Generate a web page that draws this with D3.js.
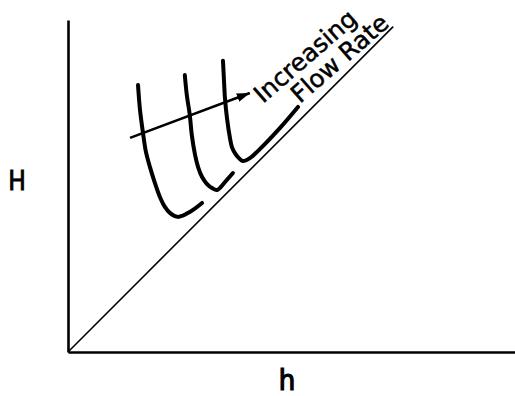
<!DOCTYPE html>
<html>
<head>
<meta charset="utf-8">
<script src="https://cdn.jsdelivr.net/npm/d3@7"></script>
<style>
  html, body { margin: 0; padding: 0; background: #fff; }
  svg { display: block; }
</style>
</head>
<body>
<svg id="chart" width="515" height="396"></svg>
<script>
// Axis extents (arbitrary units, equal scaling on both axes)
const hDomain = [0, 13.5];
const HDomain = [0, 10];

// Reference line H = h
const diagonal = [[0, 0], [9.8, 9.8]];

// Head curves, one per flow rate (low -> high)
const curveLow = [
  [2.11, 8.04], [2.17, 7.29], [2.26, 6.60], [2.35, 6.02], [2.47, 5.57],
  [2.62, 5.09], [2.77, 4.67], [2.92, 4.37], [3.07, 4.19], [3.31, 4.07],
  [3.67, 4.22], [4.04, 4.49]
];
const curveMid = [
  [3.52, 8.34], [3.58, 7.74], [3.67, 7.14], [3.73, 6.54], [3.83, 5.93],
  [3.92, 5.57], [4.04, 5.27], [4.19, 5.06], [4.34, 4.94], [4.49, 4.88],
  [4.73, 5.12], [4.97, 5.39]
];
const curveHigh = [
  [4.67, 8.77], [4.70, 8.19], [4.73, 7.65], [4.79, 7.05], [4.88, 6.45],
  [4.94, 6.17], [5.03, 5.99], [5.15, 5.84], [5.27, 5.75], [5.48, 5.84],
  [5.78, 6.11], [6.39, 6.75], [6.93, 7.38]
];
const curves = [curveLow, curveMid, curveHigh];

// Arrow indicating increasing flow rate
const arrow = [[1.87, 6.45], [5.48, 7.80]];

// Text
const xLabel = "h";
const yLabel = "H";
const annotation = ["Increasing", "Flow Rate"];

const svg = d3.select("#chart");

const x = d3.scaleLinear().domain(hDomain).range([68, 516]);
const y = d3.scaleLinear().domain(HDomain).range([352, 20]);

// Arrowhead marker
svg.append("defs").append("marker")
  .attr("id", "head")
  .attr("viewBox", "0 0 13 9")
  .attr("refX", 13).attr("refY", 4.5)
  .attr("markerWidth", 13).attr("markerHeight", 9)
  .attr("markerUnits", "userSpaceOnUse")
  .attr("orient", "auto")
  .append("path")
  .attr("d", "M0,0 L13,4.5 L0,9 Z")
  .attr("fill", "#000");

// Axes drawn as bare lines (no ticks)
const xAxis = d3.axisBottom(x).tickValues([]).tickSizeOuter(0);
const yAxis = d3.axisLeft(y).tickValues([]).tickSizeOuter(0);

svg.append("g")
  .attr("transform", `translate(0,${y(0)})`)
  .call(xAxis)
  .call(g => g.select(".domain").attr("stroke", "#000").attr("stroke-width", 2.6));

svg.append("g")
  .attr("transform", `translate(${x(0)},0)`)
  .call(yAxis)
  .call(g => g.select(".domain").attr("stroke", "#000").attr("stroke-width", 2.6));

// Diagonal H = h
svg.append("path")
  .datum(diagonal)
  .attr("d", d3.line().x(d => x(d[0])).y(d => y(d[1])))
  .attr("fill", "none")
  .attr("stroke", "#000")
  .attr("stroke-width", 1.6);

// Curves
const curveLine = d3.line()
  .x(d => x(d[0])).y(d => y(d[1]))
  .curve(d3.curveCatmullRom.alpha(0.5));

svg.selectAll("path.flow")
  .data(curves)
  .join("path")
  .attr("class", "flow")
  .attr("d", curveLine)
  .attr("fill", "none")
  .attr("stroke", "#000")
  .attr("stroke-width", 4)
  .attr("stroke-linecap", "round")
  .attr("stroke-linejoin", "round");

// Arrow
svg.append("path")
  .datum(arrow)
  .attr("d", d3.line().x(d => x(d[0])).y(d => y(d[1])))
  .attr("fill", "none")
  .attr("stroke", "#000")
  .attr("stroke-width", 2.6)
  .attr("marker-end", "url(#head)");

// Annotation along the diagonal
const font = "'DejaVu Sans', Verdana, sans-serif";
const angle = -41;
const annotationPos = [[263, 104], [300, 104]];
svg.selectAll("text.note")
  .data(annotation)
  .join("text")
  .attr("class", "note")
  .attr("transform", (d, i) => `translate(${annotationPos[i][0]},${annotationPos[i][1]}) rotate(${angle})`)
  .attr("font-family", font)
  .attr("font-size", 24.5)
  .attr("fill", "#000")
  .attr("stroke", "#000")
  .attr("stroke-width", 0.5)
  .text(d => d);

// Axis titles
const labelFont = "'DejaVu Sans Condensed', 'DejaVu Sans', sans-serif";
svg.append("text")
  .attr("x", 17).attr("y", 190)
  .attr("text-anchor", "middle")
  .attr("font-family", labelFont)
  .attr("font-size", 26)
  .attr("fill", "#000")
  .attr("stroke", "#000")
  .attr("stroke-width", 0.8)
  .text(yLabel);

svg.append("text")
  .attr("x", 287).attr("y", 390)
  .attr("text-anchor", "middle")
  .attr("font-family", labelFont)
  .attr("font-size", 29)
  .attr("fill", "#000")
  .attr("stroke", "#000")
  .attr("stroke-width", 1.2)
  .text(xLabel);
</script>
</body>
</html>
